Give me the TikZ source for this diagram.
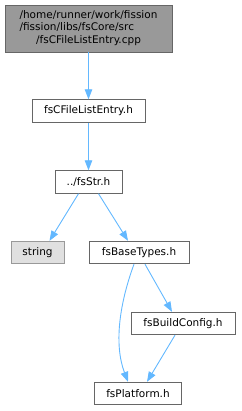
\documentclass[tikz,border=0pt]{standalone}
\usepackage{fontspec}
\setmainfont{DejaVu Sans}
\usetikzlibrary{arrows.meta}
\definecolor{edgeblue}{HTML}{63B8FF}
\definecolor{boxborder}{HTML}{666666}
\definecolor{topfill}{HTML}{999999}
\definecolor{extfill}{HTML}{E0E0E0}
\definecolor{extborder}{HTML}{999999}
\tikzset{
  filebox/.style={draw=boxborder, fill=white, line width=0.9pt, inner sep=0pt,
    font=\fontsize{10.5}{12.5}\selectfont, anchor=center},
  extbox/.style={filebox, draw=extborder, fill=extfill},
  topbox/.style={filebox, fill=topfill},
  dep/.style={draw=edgeblue, line width=0.9pt, -{Triangle[length=10pt,width=7.5pt]}},
}
\begin{document}
\begin{tikzpicture}[x=1pt,y=-1pt]
\useasboundingbox (0,0) rectangle (241,411);
\node[topbox, minimum width=167pt, minimum height=47pt] (top) at (88.5,28.5)
  {\begin{tabular}{@{}l@{}}/home/runner/work/fission\\/fission/libs/fsCore/src\\\multicolumn{1}{@{}c@{}}{/fsCFileListEntry.cpp}\end{tabular}};
\node[filebox, minimum width=113pt, minimum height=22.5pt] (cfl) at (88.5,111) {fsCFileListEntry.h};
\node[filebox, minimum width=67pt, minimum height=22.5pt] (str) at (88.5,182) {../fsStr.h};
\node[extbox, minimum width=53pt, minimum height=22.5pt] (string) at (37.5,252.5) {string};
\node[filebox, minimum width=100pt, minimum height=22.5pt] (bt) at (139,252.5) {fsBaseTypes.h};
\node[filebox, minimum width=104pt, minimum height=22.5pt] (bc) at (183,323.5) {fsBuildConfig.h};
\node[filebox, minimum width=87pt, minimum height=22.5pt] (pf) at (138,393.5) {fsPlatform.h};
\draw[dep] (top.south) -- (cfl.north);
\draw[dep] (cfl.south) -- (str.north);
\draw[dep] ([xshift=-10pt]str.south) -- ([xshift=12pt]string.north);
\draw[dep] ([xshift=10pt]str.south) -- ([xshift=-11pt]bt.north);
\draw[dep] ([xshift=6pt]bt.south) -- ([xshift=-11pt]bc.north);
\draw[dep] ([xshift=-5pt]bt.south) .. controls (119,305) and (114,345) .. ([xshift=-10pt]pf.north);
\draw[dep] ([xshift=-8pt]bc.south) -- ([xshift=9pt]pf.north);
\end{tikzpicture}
\end{document}
